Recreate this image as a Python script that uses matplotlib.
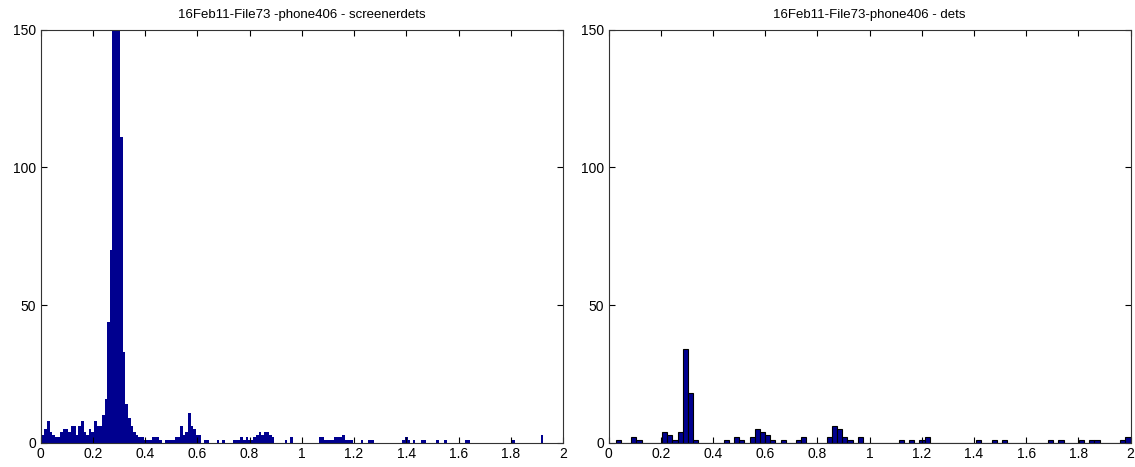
import matplotlib
matplotlib.use("Agg")
import matplotlib.pyplot as plt
import numpy as np

plt.rcParams['font.family'] = ['Liberation Sans', 'DejaVu Sans']

# ---------------- data ----------------
title_left = "16Feb11-File73 -phone406 - screenerdets"
title_right = "16Feb11-File73-phone406 - dets"

# left histogram: bins centred on 0.00, 0.01, ..., 2.00
left_bin_start = 0.0
left_bin_width = 0.01
left_counts = [0] * 201
left_nonzero = {
    0: 3, 1: 3, 2: 5, 3: 8, 4: 4, 5: 3, 6: 2, 7: 2, 8: 4, 9: 5, 10: 5, 11: 4,
    12: 6, 13: 6, 14: 3, 15: 6, 16: 8, 17: 4, 18: 3, 19: 5, 20: 4, 21: 8,
    22: 6, 23: 6, 24: 10, 25: 16, 26: 44, 27: 70, 28: 160, 29: 165, 30: 158,
    31: 111, 32: 33, 33: 14, 34: 9, 35: 6, 36: 4, 37: 3, 38: 2, 39: 2, 40: 1,
    41: 1, 42: 1, 43: 2, 44: 2, 45: 2, 46: 1, 48: 1, 49: 1, 50: 1, 51: 1,
    52: 2, 53: 2, 54: 6, 55: 3, 56: 4, 57: 11, 58: 6, 59: 5, 60: 3, 61: 3,
    63: 1, 64: 1, 68: 1, 70: 1, 74: 1, 75: 1, 76: 1, 77: 2, 78: 1, 79: 2,
    80: 1, 81: 1, 82: 2, 83: 3, 84: 4, 85: 3, 86: 4, 87: 4, 88: 3, 89: 2,
    94: 1, 96: 2, 107: 2, 108: 2, 109: 1, 110: 1, 111: 1, 112: 1, 113: 2,
    114: 2, 115: 2, 116: 3, 117: 1, 118: 1, 119: 1, 123: 1, 126: 1, 127: 1,
    139: 1, 140: 2, 141: 1, 143: 1, 146: 1, 147: 1, 152: 1, 155: 1, 163: 1,
    164: 1, 181: 1, 192: 3,
}
for k, v in left_nonzero.items():
    left_counts[k] = v

# right histogram: 100 bins spanning the data range
right_data_min = 0.028
right_data_max = 2.0
right_nbins = 100
right_counts = [0] * right_nbins
right_nonzero = {
    0: 1, 3: 2, 4: 1, 9: 4, 10: 3, 11: 1, 12: 4, 13: 34, 14: 18, 15: 1,
    21: 1, 23: 2, 24: 1, 26: 2, 27: 5, 28: 4, 29: 3, 30: 1, 32: 1, 35: 1,
    36: 2, 41: 2, 42: 6, 43: 5, 44: 2, 45: 1, 47: 2, 55: 1, 57: 1, 59: 1,
    60: 2, 70: 1, 73: 1, 75: 1, 84: 1, 86: 1, 90: 1, 92: 1, 93: 1, 98: 1,
    99: 2,
}
for k, v in right_nonzero.items():
    right_counts[k] = v

xticks = [0, 0.2, 0.4, 0.6, 0.8, 1, 1.2, 1.4, 1.6, 1.8, 2]
xticklabels = ["0", "0.2", "0.4", "0.6", "0.8", "1", "1.2", "1.4", "1.6", "1.8", "2"]
yticks = [0, 50, 100, 150]

# ---------------- plot ----------------
W, H = 1135, 467
fig = plt.figure(figsize=(W / 100, H / 100), dpi=100)
ax_l = fig.add_axes([40.5 / W, (H - 443) / H, 522.5 / W, 413.5 / H])
ax_r = fig.add_axes([608.5 / W, (H - 443) / H, 522 / W, 413.5 / H])

bar_color = '#00008F'

left_centers = left_bin_start + left_bin_width * np.arange(len(left_counts))
ax_l.bar(left_centers, left_counts, width=left_bin_width, align='center',
         color=bar_color, edgecolor='none', linewidth=0)

rw = (right_data_max - right_data_min) / right_nbins
right_centers = right_data_min + rw / 2 + rw * np.arange(right_nbins)
ax_r.bar(right_centers, right_counts, width=rw, align='center',
         color=bar_color, edgecolor='black', linewidth=0.8)

for ax, title in ((ax_l, title_left), (ax_r, title_right)):
    ax.set_xlim(0, 2)
    ax.set_ylim(0, 150)
    ax.set_xticks(xticks)
    ax.set_xticklabels(xticklabels)
    ax.set_yticks(yticks)
    ax.tick_params(direction='in', length=4, width=0.8, top=True, right=True,
                   labelsize=10, colors='black', pad=3)
    for s in ax.spines.values():
        s.set_color('#333333')
        s.set_linewidth(0.8)
    ax.set_title(title, fontsize=9.5, pad=8)

fig.savefig('out.png', dpi=100)
